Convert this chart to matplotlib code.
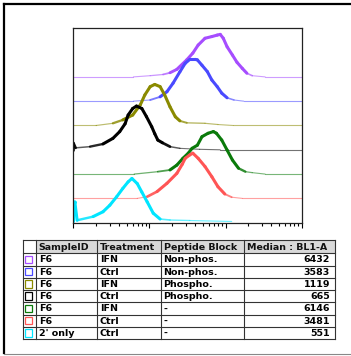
import numpy as np
import matplotlib.pyplot as plt
from matplotlib.patches import Rectangle
from matplotlib.collections import LineCollection

# Table columns
sample_ids = ["F6", "F6", "F6", "F6", "F6", "F6", "2' only"]
treatments = ["IFN", "Ctrl", "IFN", "Ctrl", "IFN", "Ctrl", "Ctrl"]
peptide_blocks = ["Non-phos.", "Non-phos.", "Phospho.", "Phospho.", "-", "-", "-"]
medians = [6432, 3583, 1119, 665, 6146, 3481, 551]
headers = ["SampleID", "Treatment", "Peptide Block", "Median : BL1-A"]
colors = ["#a64dff", "#4a4aff", "#8a8a00", "#000000", "#0a7a0a", "#ff5555", "#00e5ff"]

# Histogram traces: x = log10(BL1-A), h = height (offset units)
purple_x = [2.0, 2.79, 3.01, 3.18, 3.27, 3.36, 3.49, 3.57, 3.64, 3.73, 3.82, 3.89, 3.93, 3.97, 4.02, 4.09, 4.15, 4.22, 4.28, 4.35, 4.52, 5.0]
purple_h = [0, 0, 0.05, 0.10, 0.17, 0.31, 0.70, 0.98, 1.31, 1.59, 1.66, 1.72, 1.75, 1.59, 1.24, 0.90, 0.60, 0.35, 0.15, 0.05, 0, 0]

blue_x = [2.0, 2.79, 3.01, 3.14, 3.23, 3.31, 3.40, 3.47, 3.53, 3.60, 3.63, 3.69, 3.76, 3.82, 3.89, 3.95, 4.02, 4.11, 4.24, 5.0]
blue_h = [0, 0, 0.05, 0.18, 0.39, 0.74, 1.21, 1.56, 1.72, 1.72, 1.70, 1.48, 1.22, 0.87, 0.60, 0.33, 0.14, 0.05, 0, 0]

olive_x = [2.0, 2.30, 2.52, 2.65, 2.78, 2.88, 2.94, 3.01, 3.07, 3.14, 3.20, 3.27, 3.34, 3.40, 3.49, 3.73, 3.90, 4.10, 5.0]
olive_h = [0, 0, 0.09, 0.23, 0.43, 0.85, 1.26, 1.60, 1.69, 1.60, 1.26, 0.77, 0.36, 0.19, 0.11, 0.09, 0.04, 0, 0]

black_x = [2.0, 2.0, 2.03, 2.22, 2.39, 2.52, 2.61, 2.68, 2.72, 2.78, 2.83, 2.90, 2.96, 3.03, 3.07, 3.11, 3.17, 3.27, 3.40, 3.66, 3.93, 5.0]
black_h = [0, 0.29, 0.08, 0.13, 0.24, 0.47, 0.75, 1.07, 1.43, 1.70, 1.80, 1.70, 1.37, 0.95, 0.66, 0.40, 0.29, 0.13, 0.06, 0.02, 0, 0]

green_x = [2.0, 2.80, 3.11, 3.27, 3.36, 3.44, 3.51, 3.56, 3.63, 3.69, 3.77, 3.84, 3.88, 3.95, 4.02, 4.09, 4.17, 4.26, 4.35, 4.52, 5.0]
green_h = [0, 0, 0.10, 0.17, 0.37, 0.65, 0.86, 1.06, 1.19, 1.54, 1.68, 1.75, 1.68, 1.40, 0.99, 0.58, 0.24, 0.10, 0.06, 0, 0]

red_x = [2.0, 2.84, 2.97, 3.10, 3.23, 3.36, 3.43, 3.47, 3.53, 3.57, 3.64, 3.73, 3.82, 3.90, 3.99, 4.08, 4.22, 5.0]
red_h = [0, 0, 0.07, 0.28, 0.62, 1.03, 1.40, 1.65, 1.79, 1.86, 1.65, 1.31, 0.89, 0.48, 0.18, 0.05, 0, 0]

cyan_x = [2.0, 2.0, 2.02, 2.05, 2.26, 2.39, 2.48, 2.57, 2.65, 2.72, 2.77, 2.84, 2.90, 2.97, 3.05, 3.14, 3.27, 3.53, 4.08]
cyan_h = [0.05, 0.86, 0.86, 0.10, 0.25, 0.45, 0.72, 1.07, 1.41, 1.68, 1.82, 1.61, 1.26, 0.86, 0.39, 0.15, 0.11, 0.09, 0.05]

traces = [(purple_x, purple_h), (blue_x, blue_h), (olive_x, olive_h), (black_x, black_h),
          (green_x, green_h), (red_x, red_h), (cyan_x, cyan_h)]
offsets = [6, 5, 4, 3, 2, 1, 0]

W, H = 351, 356
fig = plt.figure(figsize=(W / 100, H / 100), dpi=100)
fig.patch.set_facecolor("white")

# overlay in pixel coords for frame + table
ov = fig.add_axes([0, 0, 1, 1])
ov.set_xlim(0, W)
ov.set_ylim(H, 0)
ov.axis("off")

ax = fig.add_axes([73.3 / W, 1 - 222.7 / H, 228.4 / W, 194.4 / H])
ax.set_facecolor("none")
for (xs, hs), off, c in zip(traces, offsets, colors):
    x = 10 ** np.array(xs)
    h = np.array(hs)
    y = h + off
    pts = np.column_stack([x, y]).reshape(-1, 1, 2)
    segs = np.concatenate([pts[:-1], pts[1:]], axis=1)
    # thin, pale line near the baseline, thicker over the peak
    k = np.clip((np.maximum(h[:-1], h[1:]) - 0.08) / 0.25, 0, 1)
    widths = 0.8 + 1.4 * k
    rgba = [plt.matplotlib.colors.to_rgba(c, 0.55 + 0.45 * a) for a in k]
    lc = LineCollection(segs, colors=rgba, linewidths=widths, capstyle="round", joinstyle="round")
    ax.add_collection(lc)

ax.set_xscale("log")
ax.set_xlim(100, 100000)
ax.set_ylim(0, 8)
ax.set_yticks([])
ax.tick_params(axis="x", which="major", direction="out", length=3.4, width=0.8, labelbottom=False)
ax.tick_params(axis="x", which="minor", direction="out", length=2.0, width=0.8)
for s in ax.spines.values():
    s.set_linewidth(0.9)
    s.set_color("#222222")

# outer frame
ov.plot([4, 351], [4, 4], color="black", lw=1.6)
ov.plot([4, 4], [4, 353], color="black", lw=1.6)
ov.plot([4, 351], [353.5, 353.5], color="#888888", lw=0.8)

# table
col_edges = [22.7, 35.7, 96.7, 160.7, 244.3, 335.0]
top, head_bot, row_h = 240.0, 253.3, 12.24
n = len(sample_ids)
bottom = head_bot + n * row_h
for i in range(1, 5):
    ov.add_patch(Rectangle((col_edges[i], top), col_edges[i + 1] - col_edges[i], head_bot - top,
                           facecolor="#d9d9d9", edgecolor="none"))
for xe in col_edges:
    ov.plot([xe, xe], [top, bottom], color="#333333", lw=0.8)
ov.plot([col_edges[0], col_edges[-1]], [top, top], color="#333333", lw=0.8)
for r in range(n + 1):
    yy = head_bot + r * row_h
    ov.plot([col_edges[0], col_edges[-1]], [yy, yy], color="#333333", lw=0.8)

fs = 6.8
for i, t in enumerate(headers):
    ov.text(col_edges[i + 1] + 3, (top + head_bot) / 2 + 0.5, t, ha="left", va="center",
            fontsize=fs, fontweight="bold", color="#111111")
for r in range(n):
    yc = head_bot + (r + 0.5) * row_h + 0.5
    ov.add_patch(Rectangle((24.5, yc - 4.2), 7.5, 7.5, facecolor="white", edgecolor=colors[r], lw=0.9))
    ov.text(col_edges[1] + 3, yc, sample_ids[r], ha="left", va="center", fontsize=fs, fontweight="bold")
    ov.text(col_edges[2] + 3, yc, treatments[r], ha="left", va="center", fontsize=fs, fontweight="bold")
    ov.text(col_edges[3] + 2.5, yc, peptide_blocks[r], ha="left", va="center", fontsize=fs, fontweight="bold")
    ov.text(col_edges[5] - 5, yc, str(medians[r]), ha="right", va="center", fontsize=fs, fontweight="bold")

fig.savefig("out.png", dpi=100)
